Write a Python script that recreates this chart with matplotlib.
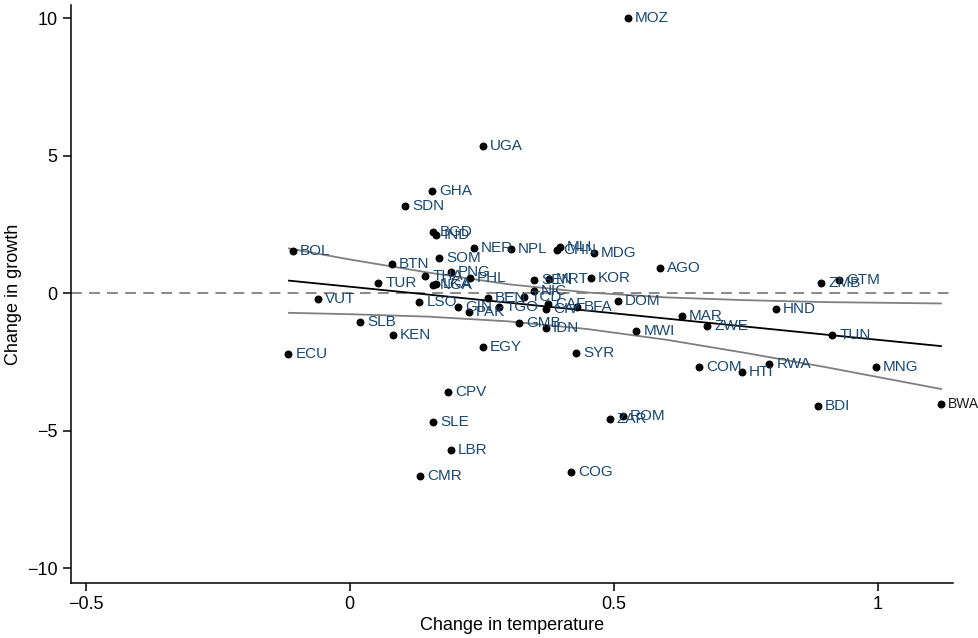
import matplotlib
matplotlib.use("Agg")
import matplotlib.pyplot as plt

plt.rcParams['font.family'] = ['Liberation Sans', 'DejaVu Sans']
plt.rcParams['axes.unicode_minus'] = True

# country codes with change in temperature / change in growth
codes = ["MOZ", "UGA", "GHA", "SDN", "BGD", "IND", "NER", "NPL", "MLI", "CHN",
         "MDG", "BOL", "SOM", "BTN", "AGO", "THA", "PNG", "PHL", "TUR", "SEN",
         "MRT", "KOR", "ZMB", "GTM", "NGA", "LKA", "VUT", "NIC", "BEN", "TCD",
         "LSO", "DOM", "GIN", "TGO", "CAF", "CIV", "BFA", "PAK", "HND", "MAR",
         "SLB", "GMB", "ZWE", "IDN", "MWI", "KEN", "TUN", "EGY", "SYR", "ECU",
         "RWA", "COM", "MNG", "HTI", "CPV", "BWA", "BDI", "ROM", "ZAR", "SLE",
         "LBR", "COG", "CMR"]
temp = [0.527, 0.253, 0.156, 0.105, 0.158, 0.164, 0.236, 0.306, 0.398, 0.392,
        0.462, -0.107, 0.170, 0.080, 0.588, 0.143, 0.192, 0.228, 0.054, 0.349,
        0.378, 0.457, 0.893, 0.927, 0.158, 0.164, -0.060, 0.349, 0.262, 0.330,
        0.132, 0.508, 0.205, 0.283, 0.376, 0.372, 0.431, 0.226, 0.808, 0.630,
        0.020, 0.321, 0.677, 0.372, 0.543, 0.082, 0.914, 0.253, 0.429, -0.116,
        0.795, 0.662, 0.997, 0.743, 0.187, 1.120, 0.887, 0.518, 0.493, 0.158,
        0.192, 0.419, 0.134]
growth = [10.0, 5.35, 3.71, 3.16, 2.22, 2.11, 1.64, 1.60, 1.67, 1.56,
          1.45, 1.53, 1.27, 1.05, 0.91, 0.62, 0.76, 0.55, 0.36, 0.47,
          0.51, 0.55, 0.36, 0.47, 0.29, 0.33, -0.22, 0.07, -0.18, -0.15,
          -0.33, -0.29, -0.51, -0.51, -0.40, -0.58, -0.51, -0.69, -0.58, -0.84,
          -1.05, -1.09, -1.20, -1.27, -1.38, -1.53, -1.53, -1.96, -2.18, -2.22,
          -2.58, -2.69, -2.69, -2.87, -3.60, -4.04, -4.11, -4.47, -4.58, -4.69,
          -5.71, -6.51, -6.65]

# fitted line and confidence band
fit_x = [-0.115, 0.0, 0.15, 0.3, 0.45, 0.6, 0.75, 0.9, 1.12]
fit_y = [0.45, 0.23, -0.06, -0.35, -0.64, -0.93, -1.22, -1.51, -1.93]
ci_hi = [1.62, 1.22, 0.74, 0.32, 0.02, -0.16, -0.26, -0.33, -0.38]
ci_lo = [-0.72, -0.77, -0.86, -1.03, -1.31, -1.70, -2.18, -2.69, -3.49]

xticks = [-0.5, 0, 0.5, 1]
xticklabels = ["\u22120.5", "0", "0.5", "1"]
yticks = [10, 5, 0, -5, -10]
yticklabels = ["10", "5", "0", "\u22125", "\u221210"]

fig = plt.figure(figsize=(9.79, 6.38), dpi=100)
ax = fig.add_axes([0.0725, 0.086, 0.9005, 0.906])

ax.axhline(0, color="#808080", lw=1.3, ls=(0, (6, 4)), zorder=1)
ax.plot(fit_x, ci_hi, color="#7f7f7f", lw=1.3, zorder=2)
ax.plot(fit_x, ci_lo, color="#7f7f7f", lw=1.3, zorder=2)
ax.plot(fit_x, fit_y, color="black", lw=1.3, zorder=3)
ax.scatter(temp, growth, s=22, color="black", zorder=4, clip_on=False)

for c, xv, yv in zip(codes, temp, growth):
    col = "#1a1a1a" if c == "BWA" else "#1a476f"
    fs = 10 if c == "BWA" else 11
    ax.annotate(c, (xv, yv), xytext=(5, 0), textcoords="offset points",
                ha="left", va="center", fontsize=fs, color=col, zorder=5,
                annotation_clip=False)

ax.set_xlim(-0.528, 1.142)
ax.set_ylim(-10.55, 10.47)
ax.set_xticks(xticks)
ax.set_xticklabels(xticklabels)
ax.set_yticks(yticks)
ax.set_yticklabels(yticklabels)
ax.tick_params(axis="both", direction="out", length=6, width=1.1, labelsize=13)
ax.set_xlabel("Change in temperature", fontsize=13, labelpad=3)
ax.set_ylabel("Change in growth", fontsize=13, labelpad=4)

ax.spines["top"].set_visible(False)
ax.spines["right"].set_visible(False)
ax.spines["left"].set_linewidth(1.1)
ax.spines["bottom"].set_linewidth(1.1)

fig.savefig("out.png", dpi=100)
